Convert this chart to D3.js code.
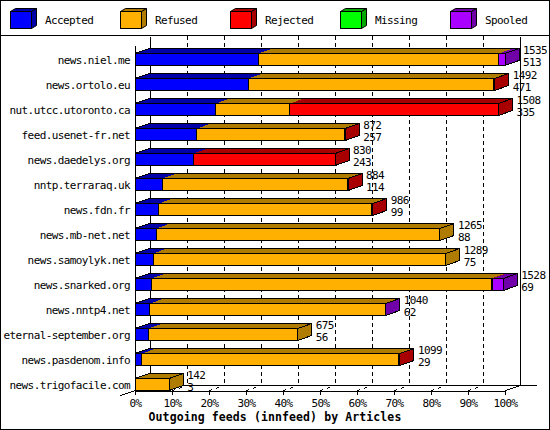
<!DOCTYPE html>
<html>
<head>
<meta charset="utf-8">
<script src="https://cdn.jsdelivr.net/npm/d3@7"></script>
<style>
body { margin: 0; background: #fff; }
text { font-family: "DejaVu Sans Mono", monospace; font-size: 11px; letter-spacing: -0.6px; fill: #000; }
.title { font-weight: bold; font-size: 11.5px; letter-spacing: 0.1px; }
</style>
</head>
<body>
<svg width="550" height="430"></svg>
<script>
var hosts = ['news.niel.me', 'news.ortolo.eu', 'nut.utcc.utoronto.ca', 'feed.usenet-fr.net',
    'news.daedelys.org', 'nntp.terraraq.uk', 'news.fdn.fr', 'news.mb-net.net',
    'news.samoylyk.net', 'news.snarked.org', 'news.nntp4.net', 'eternal-september.org',
    'news.pasdenom.info', 'news.trigofacile.com'];
var accepted = [513, 471, 335, 257, 243, 114, 99, 88, 75, 69, 62, 56, 29, 3];
var refused  = [996, 1018, 308, 611, 0, 766, 883, 1177, 1214, 1410, 976, 619, 1066, 139];
var rejected = [0, 3, 865, 4, 587, 4, 4, 0, 0, 4, 0, 0, 4, 0];
var missing  = [0, 0, 0, 0, 0, 0, 0, 0, 0, 0, 0, 0, 0, 0];
var spooled  = [26, 0, 0, 0, 0, 0, 0, 0, 0, 45, 2, 0, 0, 0];

var seriesNames = ['Accepted', 'Refused', 'Rejected', 'Missing', 'Spooled'];
var seriesColors = ['#0000ff', '#ffb000', '#ff0000', '#00ff00', '#aa00ff'];
var seriesDark = ['#0000a8', '#b07c00', '#a80000', '#00a800', '#7000a8'];
var pctTicks = [0, 10, 20, 30, 40, 50, 60, 70, 80, 90, 100];
var xTitle = 'Outgoing feeds (innfeed) by Articles';

var svg = d3.select('svg');
var W = 550, H = 430;
var dx = 14, dy = 5;          // bar depth
var fdx = 15, fdy = 5;        // floor depth
var x0 = 135, x1 = 505, yAxis = 390, yTop = 36;

var rows = hosts.map(function(h, i) {
    var vals = [accepted[i], refused[i], rejected[i], missing[i], spooled[i]];
    return { host: h, vals: vals, total: d3.sum(vals) };
});

var maxTotal = d3.max(rows, function(d) { return d.total; });
var x = d3.scaleLinear().domain([0, maxTotal]).range([x0, x1]);
var xPct = d3.scaleLinear().domain([0, 100]).range([x0, x1]);
var y = d3.scaleBand().domain(hosts).range([53, yAxis]).paddingInner(0.52).paddingOuter(0);

svg.append('rect').attr('x', 0.5).attr('y', 0.5).attr('width', W - 1).attr('height', H - 1)
    .attr('fill', '#fff').attr('stroke', '#000');
svg.append('line').attr('x1', 0).attr('x2', W).attr('y1', 35.5).attr('y2', 35.5).attr('stroke', '#000');

// Legend
var leg = svg.append('g').selectAll('g').data(seriesNames).enter().append('g')
    .attr('transform', function(d, i) { return 'translate(' + (10 + i * 110) + ',0)'; });
leg.append('polygon')
    .attr('points', '0.5,11.5 5.5,8.5 26.5,8.5 21.5,11.5')
    .attr('fill', function(d, i) { return seriesDark[i]; }).attr('stroke', '#000');
leg.append('polygon')
    .attr('points', '21.5,11.5 26.5,8.5 26.5,25.5 21.5,28.5')
    .attr('fill', function(d, i) { return seriesDark[i]; }).attr('stroke', '#000');
leg.append('rect').attr('x', 0.5).attr('y', 11.5).attr('width', 21).attr('height', 17)
    .attr('fill', function(d, i) { return seriesColors[i]; }).attr('stroke', '#000');
leg.append('text').attr('x', 35).attr('y', 24).text(function(d) { return d; });

// Grid (back wall) and floor
var grid = svg.append('g').attr('shape-rendering', 'crispEdges');
grid.selectAll('.gl').data(pctTicks.slice(1, -1)).enter().append('line')
    .attr('x1', function(d) { return Math.round(xPct(d)) + fdx + 0.5; })
    .attr('x2', function(d) { return Math.round(xPct(d)) + fdx + 0.5; })
    .attr('y1', yTop).attr('y2', yAxis - fdy)
    .attr('stroke', '#000').attr('stroke-dasharray', '4,3');
grid.selectAll('.gd').data(pctTicks.slice(1, -1)).enter().append('line')
    .attr('x1', function(d) { return Math.round(xPct(d)) + 0.5; })
    .attr('x2', function(d) { return Math.round(xPct(d)) + fdx + 0.5; })
    .attr('y1', yAxis + 0.5).attr('y2', yAxis - fdy + 0.5)
    .attr('stroke', '#000').attr('stroke-dasharray', '3,4');

var walls = [
    [x0 + fdx, yTop, x0 + fdx, yAxis - fdy],
    [x1 + fdx, yTop, x1 + fdx, yAxis - fdy],
    [x0, 45, x0, yAxis],
    [x0 + fdx, yAxis - fdy, x1 + fdx + 16, yAxis - fdy],
    [x1, yAxis, x1 + fdx, yAxis - fdy],
    [x0 - fdx, yAxis + fdy, x0 + fdx, yAxis - fdy]
];
grid.selectAll('.wall').data(walls).enter().append('line')
    .attr('x1', function(d) { return d[0] + 0.5; }).attr('y1', function(d) { return d[1] + 0.5; })
    .attr('x2', function(d) { return d[2] + 0.5; }).attr('y2', function(d) { return d[3] + 0.5; })
    .attr('stroke', '#000');

// 3D bars
var bars = svg.append('g').selectAll('g').data(rows).enter().append('g')
    .attr('shape-rendering', 'crispEdges');

bars.each(function(d) {
    var g = d3.select(this);
    var yt = y(d.host) + 0.5, h = y.bandwidth();
    var cum = 0, segs = [];
    d.vals.forEach(function(v, k) {
        if (v > 0) segs.push({ k: k, a: x(cum), b: x(cum + v) });
        cum += v;
    });
    var end = x(d.total);
    var last = segs[segs.length - 1].k;

    segs.forEach(function(s) {
        g.append('polygon')
            .attr('points', [[s.a, yt], [s.a + dx, yt - dy], [s.b + dx, yt - dy], [s.b, yt]].join(' '))
            .attr('fill', seriesDark[s.k]);
    });
    g.append('polygon')
        .attr('points', [[x0, yt], [x0 + dx, yt - dy], [end + dx, yt - dy], [end, yt]].join(' '))
        .attr('fill', 'none').attr('stroke', '#000');
    g.append('polygon')
        .attr('points', [[end, yt], [end + dx, yt - dy], [end + dx, yt + h - dy], [end, yt + h]].join(' '))
        .attr('fill', seriesDark[last]).attr('stroke', '#000');
    segs.forEach(function(s) {
        g.append('rect').attr('x', s.a).attr('y', yt)
            .attr('width', Math.max(s.b - s.a, 0.5)).attr('height', h)
            .attr('fill', seriesColors[s.k]).attr('stroke', '#000');
    });

    g.append('text').attr('x', end + 18).attr('y', yt + 0.5).text(d.total);
    g.append('text').attr('x', end + 18).attr('y', yt + h).text(d.vals[0]);
    g.append('text').attr('x', 130).attr('y', yt + 10.5).attr('text-anchor', 'end').text(d.host);
});

// Axis
var axis = svg.append('g')
    .attr('transform', 'translate(0,' + (yAxis + 0.5) + ')')
    .attr('shape-rendering', 'crispEdges')
    .call(d3.axisBottom(xPct).tickValues(pctTicks)
        .tickFormat(function(d) { return d + '%'; })
        .tickSize(4).tickSizeOuter(0).tickPadding(5));
axis.attr('font-family', null).attr('font-size', null);
axis.selectAll('text').attr('fill', '#000');

svg.append('text').attr('class', 'title').attr('x', 275).attr('y', 421)
    .attr('text-anchor', 'middle').text(xTitle);
</script>
</body>
</html>
